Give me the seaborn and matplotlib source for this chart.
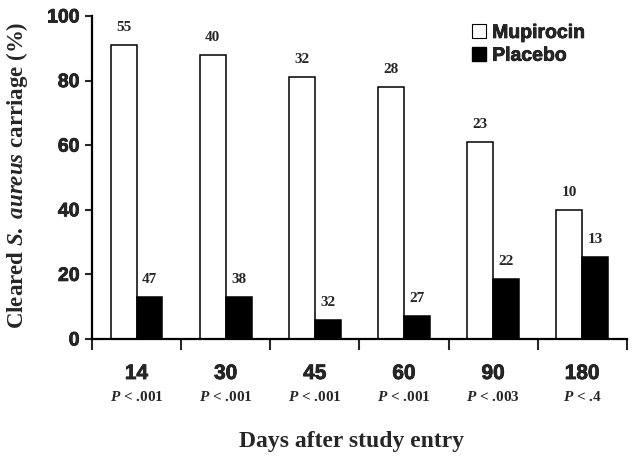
import pandas as pd
import matplotlib
matplotlib.use("Agg")
import matplotlib.pyplot as plt
import matplotlib.transforms as mtransforms
import matplotlib.patheffects as pe
from matplotlib.patches import Patch
import seaborn as sns

# ── Data ──────────────────────────────────────────────────────────────────────
days = ["14", "30", "45", "60", "90", "180"]
p_values = ["< .001", "< .001", "< .001", "< .001", "< .003", "< .4"]
mupirocin = [91, 88, 81, 78, 61, 40]
placebo = [13, 13, 6, 7, 18.5, 25.5]
n_mupirocin = [55, 40, 32, 28, 23, 10]
n_placebo = [47, 38, 32, 27, 22, 13]
groups = ["Mupirocin", "Placebo"]

df = pd.DataFrame({
    "Day": days * 2,
    "Cleared": mupirocin + placebo,
    "Group": [groups[0]] * len(days) + [groups[1]] * len(days),
})

# ── Style ─────────────────────────────────────────────────────────────────────
sns.set_theme(style="ticks")
plt.rcParams["font.family"] = ["Liberation Sans", "DejaVu Sans"]
plt.rcParams["mathtext.fontset"] = "custom"
plt.rcParams["mathtext.it"] = "Liberation Serif:bold:italic"
plt.rcParams["mathtext.rm"] = "Liberation Serif:bold"
heavy = [pe.withStroke(linewidth=0.5, foreground="black")]

fig = plt.figure(figsize=(6.37, 4.62), dpi=100)
ax = fig.add_axes([0.1444, 0.2662, 0.8396, 0.6992])

sns.barplot(data=df, x="Day", y="Cleared", hue="Group", order=days,
            hue_order=groups, palette={"Mupirocin": "white", "Placebo": "black"},
            edgecolor="black", linewidth=1.1, width=0.58, gap=0,
            legend=False, ax=ax)

# counts above the bars
for cont, counts in zip(ax.containers, [n_mupirocin, n_placebo]):
    ax.bar_label(cont, labels=[str(c) for c in counts], padding=8,
                 fontsize=11, fontweight="bold", family="Liberation Serif")

# ── Axes ──────────────────────────────────────────────────────────────────────
ax.set_ylim(0, 100)
ax.set_xlim(-0.5, len(days) - 0.5)
ax.set_yticks([0, 20, 40, 60, 80, 100])
ax.tick_params(axis="y", labelsize=14, width=1.5, length=5, pad=4)
for lab in ax.get_yticklabels():
    lab.set_fontweight("bold")
    lab.set_path_effects(heavy)

ax.set_xticks(range(len(days)))
ax.set_xticklabels(days, fontsize=15, fontweight="bold")
ax.tick_params(axis="x", length=0, pad=18)
for lab in ax.get_xticklabels():
    lab.set_path_effects(heavy)
ax.set_xticks([i - 0.5 for i in range(len(days) + 1)], minor=True)
ax.tick_params(axis="x", which="minor", length=8, width=1.5, direction="out")

sns.despine(ax=ax)
for side in ["left", "bottom"]:
    ax.spines[side].set_linewidth(1.6)
    ax.spines[side].set_color("black")

# P values under the day labels
trans = mtransforms.blended_transform_factory(ax.transData, ax.transAxes)
for i, p in enumerate(p_values):
    ax.text(i, -0.18, r"$\mathit{P}$ " + p, transform=trans, ha="center",
            va="center", fontsize=11, fontweight="bold", family="Liberation Serif")

ax.set_xlabel("Days after study entry", fontsize=17, fontweight="bold",
              family="Liberation Serif")
ax.xaxis.set_label_coords(0.485, -0.285)
ax.set_ylabel(r"Cleared $\mathit{S.}$ $\mathit{aureus}$ carriage (%)", fontsize=16.5,
              fontweight="bold", family="Liberation Serif")
ax.yaxis.set_label_coords(-0.116, 0.506)

# legend
handles = [Patch(facecolor="white", edgecolor="black", linewidth=0.8),
           Patch(facecolor="black", edgecolor="black")]
leg = ax.legend(handles, groups, loc="upper left", bbox_to_anchor=(0.71, 0.975),
                frameon=False, borderpad=0, borderaxespad=0,
                handlelength=0.75, handleheight=0.75,
                handletextpad=0.3, labelspacing=0.25,
                prop={"family": "Liberation Sans", "weight": "bold", "size": 14})
for t in leg.get_texts():
    t.set_path_effects(heavy)

fig.savefig("out.png", dpi=100)
plt.close(fig)
